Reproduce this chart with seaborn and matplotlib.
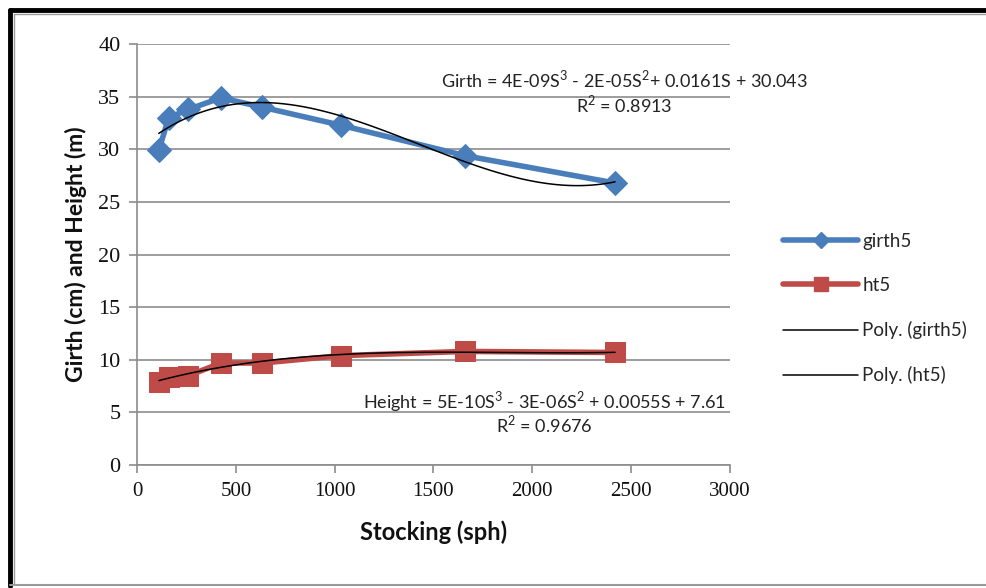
import numpy as np
import pandas as pd
import matplotlib
matplotlib.use("Agg")
import matplotlib.pyplot as plt
from matplotlib.lines import Line2D
import seaborn as sns

# Stocking density (stems per hectare) and measured girth / height
stocking = [110, 160, 260, 425, 635, 1030, 1660, 2420]
girth5 = [29.9, 33.0, 33.8, 34.9, 34.0, 32.3, 29.4, 26.8]
ht5 = [7.9, 8.4, 8.5, 9.7, 9.7, 10.4, 10.8, 10.7]

x_ticks = [0, 500, 1000, 1500, 2000, 2500, 3000]
y_ticks = [0, 5, 10, 15, 20, 25, 30, 35, 40]

girth_eq = "Girth = 4E-09S$^3$ - 2E-05S$^2$+ 0.0161S + 30.043"
girth_r2 = "R$^2$ = 0.8913"
height_eq = "Height = 5E-10S$^3$ - 3E-06S$^2$ + 0.0055S + 7.61"
height_r2 = "R$^2$ = 0.9676"

df = pd.DataFrame({"stocking": stocking, "girth5": girth5, "ht5": ht5})

sns.set_theme(style="white")
plt.rcParams["font.family"] = ["Lato", "DejaVu Sans"]
plt.rcParams["mathtext.fontset"] = "custom"
plt.rcParams["mathtext.rm"] = "Lato"

BLUE = "#4A7EBB"
RED = "#BE4B48"

fig = plt.figure(figsize=(9.86, 5.88), dpi=100)
ax = fig.add_axes([0.139, 0.209, 0.601, 0.716])

sns.lineplot(data=df, x="stocking", y="girth5", ax=ax, color=BLUE, lw=4,
             marker="D", markersize=12, markeredgecolor=BLUE,
             label="girth5", sort=False, zorder=3)
sns.lineplot(data=df, x="stocking", y="ht5", ax=ax, color=RED, lw=4,
             marker="s", markersize=14, markeredgecolor=RED,
             label="ht5", sort=False, zorder=3)

# Third-order polynomial trend lines
sns.regplot(data=df, x="stocking", y="girth5", ax=ax, order=3, ci=None,
            scatter=False, truncate=True,
            line_kws=dict(color="black", lw=1.1, zorder=4))
sns.regplot(data=df, x="stocking", y="ht5", ax=ax, order=3, ci=None,
            scatter=False, truncate=True,
            line_kws=dict(color="black", lw=1.1, zorder=4))

ax.set_xlim(0, 3000)
ax.set_ylim(0, 40)
ax.set_xticks(x_ticks)
ax.set_yticks(y_ticks)
ax.set_xticklabels([str(t) for t in x_ticks], fontsize=15,
                   family=["Liberation Serif", "DejaVu Serif"])
ax.set_yticklabels([str(t) for t in y_ticks], fontsize=16,
                   family=["Liberation Serif", "DejaVu Serif"])

ax.yaxis.grid(True, color="#8c8c8c", lw=1.2)
ax.xaxis.grid(False)
for side in ("top", "right"):
    ax.spines[side].set_visible(False)
for side in ("left", "bottom"):
    ax.spines[side].set_color("#8c8c8c")
    ax.spines[side].set_linewidth(1.2)
ax.tick_params(axis="both", which="major", direction="out", length=6,
               width=1.2, color="#8c8c8c", bottom=True, left=True, pad=6,
               labelcolor="#111111")

ax.set_xlabel("Stocking (sph)", fontsize=17, fontweight="bold",
              color="#111111", labelpad=14)
ax.set_ylabel("Girth (cm) and Height (m)", fontsize=16.5, fontweight="bold",
              color="#111111", labelpad=8)

ax.text(2468, 36.7, girth_eq, ha="center", va="center", fontsize=13,
        color="#222222")
ax.text(2468, 34.3, girth_r2, ha="center", va="center", fontsize=13,
        color="#222222")
ax.text(2064, 6.0, height_eq, ha="center", va="center", fontsize=13,
        color="#222222")
ax.text(2064, 3.9, height_r2, ha="center", va="center", fontsize=13,
        color="#222222")

handles = [
    Line2D([], [], color=BLUE, lw=4, marker="D", markersize=8),
    Line2D([], [], color=RED, lw=4, marker="s", markersize=10),
    Line2D([], [], color="black", lw=1.1),
    Line2D([], [], color="black", lw=1.1),
]
labels = ["girth5", "ht5", "Poly. (girth5)", "Poly. (ht5)"]
ax.legend(handles, labels, loc="upper left", bbox_to_anchor=(0.787, 0.617),
          bbox_transform=fig.transFigure, frameon=False, fontsize=13.5,
          handlelength=4.0, handletextpad=0.2, labelspacing=1.45,
          borderaxespad=0)

# Outer frame
W, H = 986, 588
def fx(px):
    return px / W
def fy(py):
    return 1 - py / H
fig.add_artist(Line2D([fx(10), fx(10)], [fy(10), fy(586)], color="black",
                      lw=3.5, transform=fig.transFigure))
fig.add_artist(Line2D([fx(10), fx(986)], [fy(10), fy(10)], color="black",
                      lw=3.5, transform=fig.transFigure))
fig.add_artist(Line2D([fx(14), fx(14)], [fy(14), fy(584)], color="#9a9a9a",
                      lw=1, transform=fig.transFigure))
fig.add_artist(Line2D([fx(14), fx(986)], [fy(14), fy(14)], color="#9a9a9a",
                      lw=1, transform=fig.transFigure))
fig.add_artist(Line2D([fx(10), fx(986)], [fy(585), fy(585)], color="#9a9a9a",
                      lw=1.5, transform=fig.transFigure))

fig.savefig("out.png", dpi=100)
